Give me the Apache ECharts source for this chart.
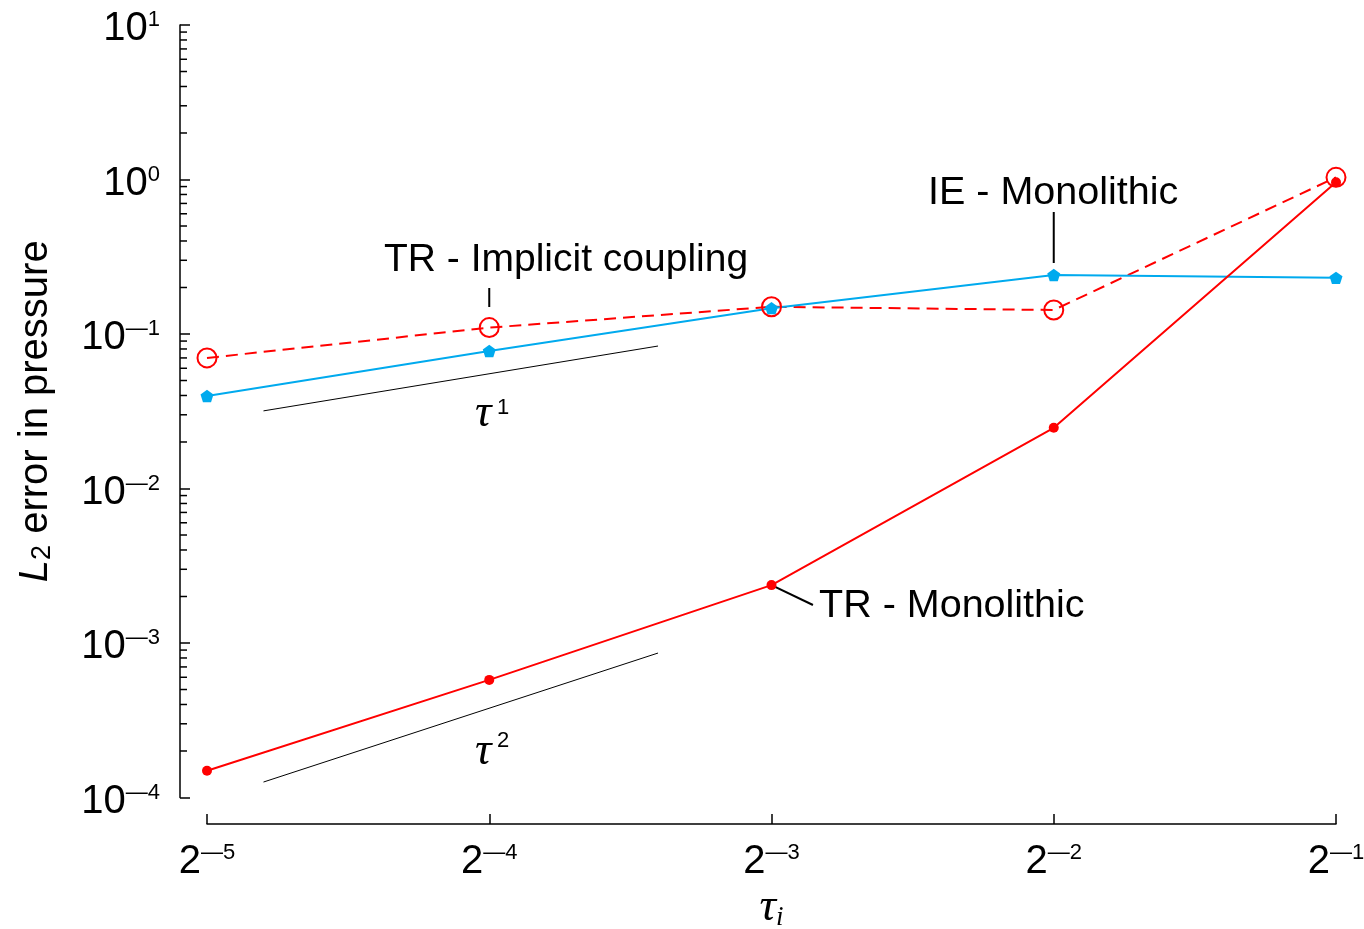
<!DOCTYPE html>
<html><head><meta charset="utf-8">
<script src="https://cdn.jsdelivr.net/npm/echarts@6/dist/echarts.min.js"></script>
<style>html,body{margin:0;padding:0;background:#fff}#c{width:1364px;height:929px}</style>
</head><body><div id="c"></div>
<script>
// ---- data ----
const tauValues   = [0.03125, 0.0625, 0.125, 0.25, 0.5];      // 2^-5 .. 2^-1
const xExponents  = [-5, -4, -3, -2, -1];                      // x tick labels 2^e
const yExponents  = [-4, -3, -2, -1, 0, 1];                    // y tick labels 10^e
const trImplicit  = [0.070, 0.110, 0.150, 0.143, 1.033];       // TR - Implicit coupling
const ieMono      = [0.0397, 0.0776, 0.147, 0.241, 0.231];     // IE - Monolithic
const trMono      = [1.49e-4, 5.77e-4, 2.37e-3, 0.0247, 0.959];// TR - Monolithic
const tau1Ref     = [[0.0359, 0.0318], [0.0946, 0.0836]];      // slope-1 guide
const tau2Ref     = [[0.0359, 1.259e-4], [0.0946, 8.61e-4]];   // slope-2 guide
const leadImplicit= [[0.0625, 0.1986], [0.0625, 0.1495]];
const leadIE      = [[0.25, 0.616], [0.25, 0.288]];
const leadTRMono  = [[0.125, 2.37e-3], [0.1384, 1.762e-3]];

const Y_OFFSET = 27, X_OFFSET = 26.5;
const SANS = '"Liberation Sans", Arial, Helvetica, sans-serif';
const SERIF = '"Liberation Serif", "Times New Roman", serif';

function supLabel(base, e) {
  const t = e < 0 ? '\u2014' + (-e) : String(e);
  return '{b|' + base + '}{s|' + t + '}';
}
const tickRich = {
  b: {fontSize: 40, lineHeight: 40, fontFamily: SANS, color: '#000'},
  s: {fontSize: 22, lineHeight: 22, fontFamily: SANS, color: '#000', verticalAlign: 'top'}
};

const minorVals = [];
for (let k = -4; k <= 0; k++) for (let m = 2; m <= 9; m++) minorVals.push(m * Math.pow(10, k));

const chart = echarts.init(document.getElementById('c'), null, {renderer: 'canvas'});
const pentagon = 'path://M0,-100L95.1,-30.9L58.8,80.9L-58.8,80.9L-95.1,-30.9Z';
const T = (text, x, y, font) => ({type: 'text', x: x, y: y, style: {text: text, font: font, fill: '#000',
  align: 'left', verticalAlign: 'middle', textAlign: 'left', textVerticalAlign: 'middle'}});

chart.setOption({
  animation: false,
  backgroundColor: '#fff',
  textStyle: {fontFamily: SANS},
  grid: {left: 207, right: 28, top: 25, bottom: 131.5, containLabel: false, outerBoundsMode: 'none'},
  xAxis: {
    type: 'log', logBase: 2, min: tauValues[0], max: tauValues[tauValues.length - 1], splitNumber: 4,
    offset: X_OFFSET,
    axisLine: {show: true, onZero: false, lineStyle: {color: '#000', width: 1.5}},
    axisTick: {show: true, inside: true, length: 10, lineStyle: {color: '#000', width: 1.5}},
    splitLine: {show: false},
    axisLabel: {
      margin: 18, color: '#000', rich: tickRich,
      formatter: v => { const e = Math.round(Math.log2(v)); return xExponents.includes(e) ? supLabel('2', e) : ''; }
    },
    name: '{t|\u03C4}{sub|i}', nameLocation: 'middle', nameGap: 61, nameMoveOverlap: false,
    nameTextStyle: {rich: {
      t: {fontSize: 46, lineHeight: 46, fontFamily: SERIF, fontStyle: 'italic', color: '#000'},
      sub: {fontSize: 27, lineHeight: 27, fontFamily: SERIF, fontStyle: 'italic', color: '#000', verticalAlign: 'bottom'}
    }}
  },
  yAxis: {
    type: 'log', logBase: 10, min: 1e-4, max: 10, splitNumber: 5,
    offset: Y_OFFSET,
    axisLine: {show: true, onZero: false, lineStyle: {color: '#000', width: 1.5}},
    axisTick: {show: true, inside: true, length: 10, lineStyle: {color: '#000', width: 1.5}},
    splitLine: {show: false},
    axisLabel: {
      margin: 20, color: '#000', rich: tickRich, padding: [8, 0, 0, 0],
      formatter: v => { const e = Math.round(Math.log10(v)); return yExponents.includes(e) ? supLabel('10', e) : ''; }
    },
    name: '{i|L}{sub|2}{n| error in pressure}', nameLocation: 'middle', nameRotate: 90, nameGap: 124,
    nameMoveOverlap: false,
    nameTextStyle: {rich: {
      i: {fontSize: 40, lineHeight: 40, fontFamily: SANS, fontStyle: 'italic', color: '#000'},
      sub: {fontSize: 27, lineHeight: 27, fontFamily: SANS, color: '#000', verticalAlign: 'bottom'},
      n: {fontSize: 40, lineHeight: 40, fontFamily: SANS, color: '#000'}
    }}
  },
  series: [
    { // minor ticks of the log y axis
      type: 'custom', silent: true, clip: false, z: 5,
      data: minorVals.map(v => [tauValues[0], v]),
      renderItem: (params, api) => {
        const p = api.coord([api.value(0), api.value(1)]);
        const x0 = params.coordSys.x - Y_OFFSET;
        return {type: 'line', shape: {x1: x0, y1: p[1], x2: x0 + 7, y2: p[1]},
                style: {stroke: '#000', lineWidth: 1.5}};
      }
    },
    {type: 'line', silent: true, data: tau1Ref, symbol: 'none', lineStyle: {color: '#000', width: 1}},
    {type: 'line', silent: true, data: tau2Ref, symbol: 'none', lineStyle: {color: '#000', width: 1}},
    {type: 'line', silent: true, data: leadImplicit, symbol: 'none', lineStyle: {color: '#000', width: 2}},
    {type: 'line', silent: true, data: leadIE, symbol: 'none', lineStyle: {color: '#000', width: 2}},
    {type: 'line', silent: true, data: leadTRMono, symbol: 'none', lineStyle: {color: '#000', width: 2}},
    {
      name: 'TR - Implicit coupling', type: 'line', silent: true,
      data: tauValues.map((x, i) => [x, trImplicit[i]]),
      symbol: 'circle', symbolSize: 19,
      itemStyle: {color: 'rgba(0,0,0,0)', borderColor: '#ff0000', borderWidth: 2},
      lineStyle: {color: '#ff0000', width: 2, type: [12, 7]}
    },
    {
      name: 'IE - Monolithic', type: 'line', silent: true,
      data: tauValues.map((x, i) => [x, ieMono[i]]),
      symbol: pentagon, symbolSize: 13, symbolKeepAspect: true,
      itemStyle: {color: '#00aaee'},
      lineStyle: {color: '#00aaee', width: 2}
    },
    {
      name: 'TR - Monolithic', type: 'line', silent: true,
      data: tauValues.map((x, i) => [x, trMono[i]]),
      symbol: 'circle', symbolSize: 10,
      itemStyle: {color: '#ff0000'},
      lineStyle: {color: '#ff0000', width: 2}
    }
  ],
  graphic: [
    T('TR - Implicit coupling', 384, 260, '39px ' + SANS),
    T('IE - Monolithic', 928, 193, '39.5px ' + SANS),
    T('TR - Monolithic', 819, 606, '39.5px ' + SANS),
    T('\u03C4', 475, 414, 'italic 46px ' + SERIF),
    T('1', 497, 408, '22px ' + SANS),
    T('\u03C4', 475, 752, 'italic 46px ' + SERIF),
    T('2', 497, 741, '22px ' + SANS)
  ]
});
</script></body></html>
